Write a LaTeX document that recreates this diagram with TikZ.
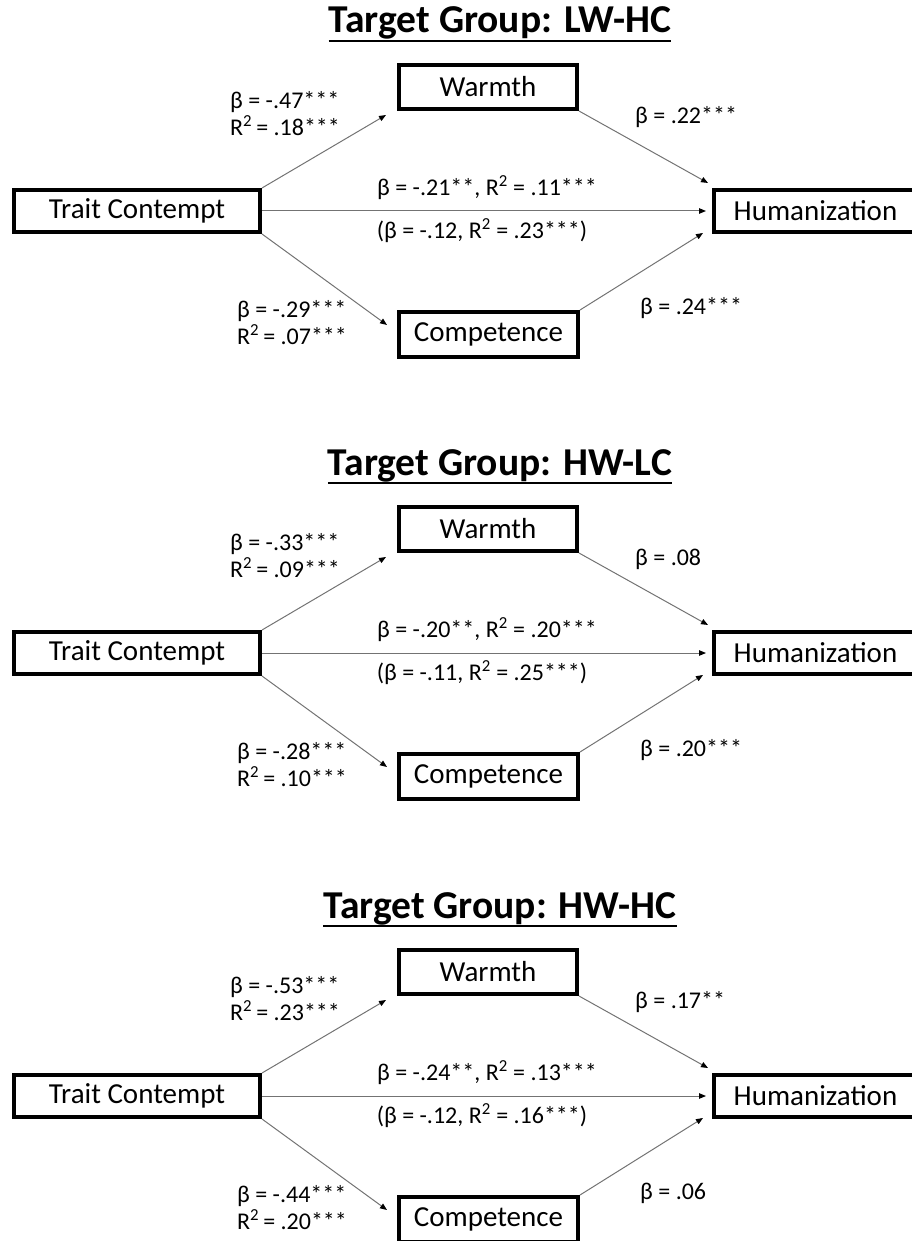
\documentclass[tikz,border=0pt]{standalone}
\usepackage{fontspec}
\setmainfont{Carlito}
\usetikzlibrary{arrows.meta,calc}
\tikzset{
  vbox/.style={draw, line width=4pt, inner sep=0pt, font=\fontsize{29}{34}\selectfont},
  lbl/.style={inner sep=0pt, font=\fontsize{24}{27}\selectfont, align=left},
  conn/.style={draw=black!55, line width=1pt, -{Triangle[length=7pt,width=5.5pt,color=black]}},
  ttl/.style={inner sep=0pt, font=\fontsize{39.5}{42}\selectfont\bfseries},
}
\newcommand\sq{\textsuperscript{2}}
\newcommand\panel[9]{%
  \begin{scope}[yshift=-#2pt]
    \node[ttl, anchor=base] (t#1) at (500,33) {#3};
    \draw[line width=2.5pt] ($(t#1.base west)+(0,8)$) -- ($(t#1.base east)+(0,8)$);
    \node[vbox, minimum width=246pt, minimum height=42pt] (tc#1) at (137,211) {Trait Contempt};
    \node[vbox, minimum width=178pt, minimum height=44pt] (w#1) at (488,87) {Warmth};
    \node[vbox, minimum width=179pt, minimum height=45pt] (c#1) at (488.5,334.5) {Competence};
    \node[vbox, minimum width=203pt, minimum height=42pt] (h#1) at (815.5,211) {Humanization};
    \draw[conn] (tc#1.north east) -- ($(w#1.south west)+(-11,4)$);
    \draw[conn] (w#1.south east) -- ($(h#1.north west)+(-4,-5)$);
    \draw[conn] (tc#1.east) -- ($(h#1.west)+(-6,0)$);
    \draw[conn] (tc#1.south east) -- ($(c#1.north west)+(-10,15)$);
    \draw[conn] (c#1.north east) -- ($(h#1.south west)+(-9,-1)$);
    \node[lbl, anchor=west] (lu#1) at (230,113.5) {#4};
    \node[lbl, anchor=west] (ll#1) at (237,322.5) {#5};
    \node[lbl, anchor=west] (ru#1) at (635,117) {#6};
    \node[lbl, anchor=west] (rl#1) at (640,308) {#7};
    \node[lbl] (mt#1) at (487,188) {#8};
    \node[lbl] (mb#1) at (482,231) {#9};
  \end{scope}}
\begin{document}
\begin{tikzpicture}[x=1pt,y=-1pt]
\useasboundingbox (0,0) rectangle (912,1241);
\panel{a}{0}{Target Group: LW-HC}{β = -.47***\\R\sq\thinspace= .18***}{β = -.29***\\R\sq\thinspace= .07***}{β = .22***}{β = .24***}{β = -.21**, R\sq{} = .11***}{(β = -.12, R\sq{} = .23***)}
\panel{b}{442}{Target Group: HW-LC}{β = -.33***\\R\sq\thinspace= .09***}{β = -.28***\\R\sq\thinspace= .10***}{β = .08}{β = .20***}{β = -.20**, R\sq{} = .20***}{(β = -.11, R\sq{} = .25***)}
\panel{c}{885}{Target Group: HW-HC}{β = -.53***\\R\sq\thinspace= .23***}{β = -.44***\\R\sq\thinspace= .20***}{β = .17**}{β = .06}{β = -.24**, R\sq{} = .13***}{(β = -.12, R\sq{} = .16***)}
\end{tikzpicture}
\end{document}
